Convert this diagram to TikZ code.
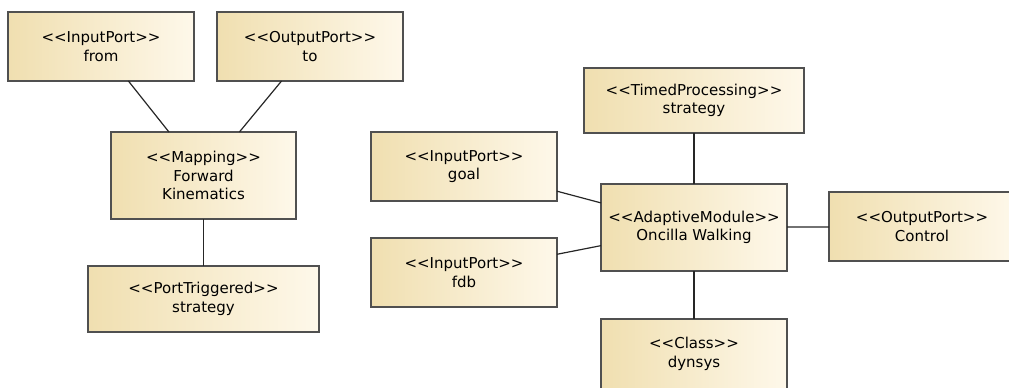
\documentclass[tikz,border=0pt]{standalone}
\usepackage{fontspec}
\setmainfont{DejaVu Sans}[Ligatures=TeXOff]
\usepackage{xcolor}

\definecolor{boxleft}{RGB}{240,223,176}
\definecolor{boxright}{RGB}{254,248,234}
\definecolor{boxline}{RGB}{80,80,80}

\tikzset{
	umlbox/.style={draw=boxline, line width=1.2pt, left color=boxleft, right color=boxright,
		align=center, inner sep=0pt, outer sep=0pt,
		font=\fontsize{15}{18.5}\selectfont},
	link/.style={draw=black!85, line width=1.2pt}
}

\begin{document}
\begin{tikzpicture}[x=1pt, y=-1pt]
			\useasboundingbox (0,0) rectangle (1009,388);
			\clip (0,0) rectangle (1009,388);
			% left part
			\node[umlbox, minimum width=186pt, minimum height=69pt] (from) at (101,46.5) {<<InputPort>>\\from};
			\node[umlbox, minimum width=186pt, minimum height=69pt] (to) at (310,46.5) {<<OutputPort>>\\to};
			\node[umlbox, minimum width=185pt, minimum height=87pt] (map) at (203.5,175.5) {<<Mapping>>\\Forward\\Kinematics};
			\node[umlbox, minimum width=231pt, minimum height=66pt] (trig) at (203.5,299) {<<PortTriggered>>\\strategy};
			% right part
			\node[umlbox, minimum width=220pt, minimum height=65pt] (timed) at (694,100.5) {<<TimedProcessing>>\\strategy};
			\node[umlbox, minimum width=186pt, minimum height=69pt] (goal) at (464,166.5) {<<InputPort>>\\goal};
			\node[umlbox, minimum width=186pt, minimum height=69pt] (fdb) at (464,272.5) {<<InputPort>>\\fdb};
			\node[umlbox, minimum width=186pt, minimum height=87pt] (adapt) at (694,227.5) {<<AdaptiveModule>>\\Oncilla Walking};
			\node[umlbox, minimum width=186pt, minimum height=69pt] (ctrl) at (922,226.5) {<<OutputPort>>\\Control};
			\node[umlbox, minimum width=186pt, minimum height=70pt] (cls) at (694,354) {<<Class>>\\dynsys};
			% links
			\draw[link] (from) -- (map);
			\draw[link] (to) -- (map);
			\draw[link] (map) -- (trig);
			\draw[link] (timed) -- (adapt);
			\draw[link] (goal) -- (adapt);
			\draw[link] (fdb) -- (adapt);
			\draw[link] (adapt) -- (ctrl);
			\draw[link] (adapt) -- (cls);
		\end{tikzpicture}
\end{document}
